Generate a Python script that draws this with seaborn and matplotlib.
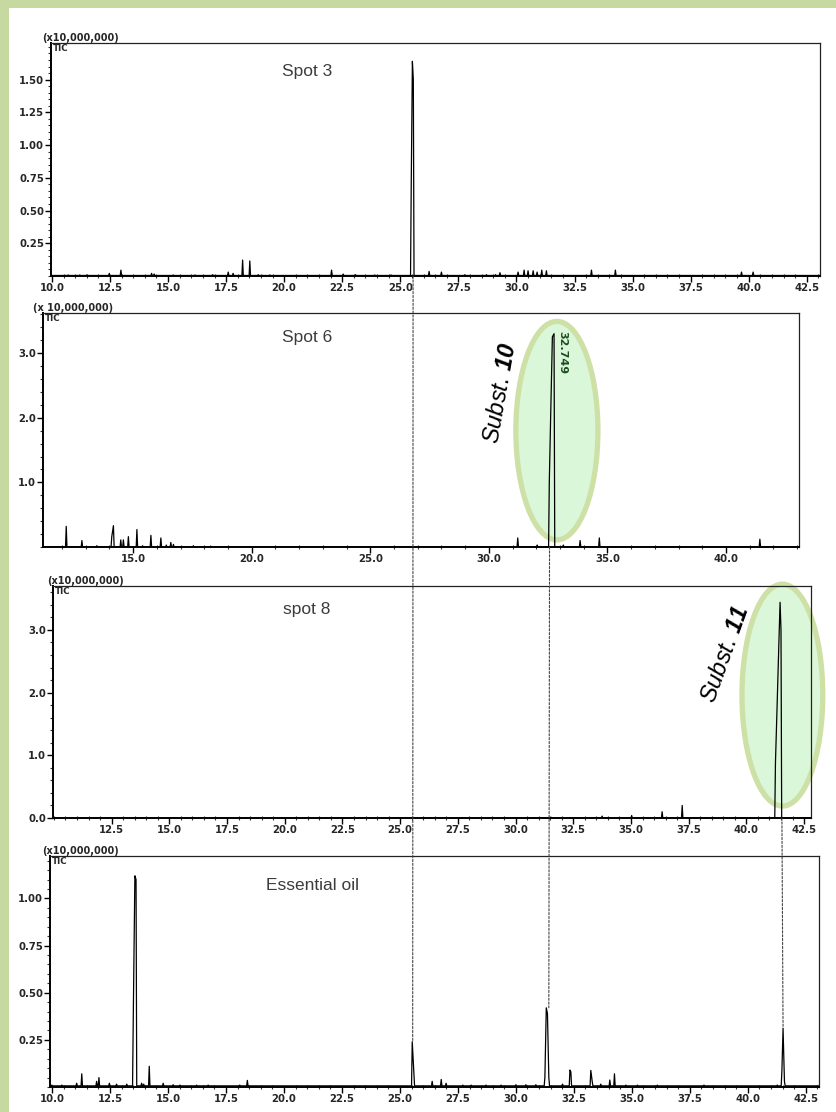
import numpy as np
import pandas as pd
import matplotlib
matplotlib.use("Agg")
import matplotlib.pyplot as plt
from matplotlib.patches import Ellipse, Rectangle, ConnectionPatch
from matplotlib.ticker import MultipleLocator
import seaborn as sns

# ---------------- data (retention time [min], TIC [x10,000,000]) ----------------
spot3_rt = [10.7, 11.2, 11.5, 12.47, 12.97, 14.29, 14.4, 15.22, 16.16, 16.92, 17.59, 17.8,
            18.21, 18.52, 18.88, 19.38, 22.04, 22.54, 23.07, 23.9, 24.6,
            25.47, 25.52, 25.56, 26.24, 26.77, 27.78, 28.71, 29.1, 29.29, 30.07, 30.33,
            30.5, 30.72, 30.89, 31.09, 31.29, 33.23, 34.26, 39.69, 40.19]
spot3_h = [0.008, 0.008, 0.008, 0.02, 0.045, 0.02, 0.015, 0.008, 0.008, 0.01, 0.03, 0.02,
           0.122, 0.115, 0.01, 0.008, 0.045, 0.015, 0.01, 0.008, 0.008,
           0.69, 1.64, 1.50, 0.035, 0.03, 0.01, 0.01, 0.01, 0.025, 0.03, 0.045,
           0.04, 0.04, 0.03, 0.045, 0.04, 0.045, 0.045, 0.03, 0.03]

spot6_rt = [12.18, 12.84, 13.47, 14.1, 14.17, 14.48, 14.59, 14.8, 15.16, 15.4, 15.75, 16.17,
            16.4, 16.59, 16.7, 17.54, 18.27, 31.22, 32.04, 32.55, 32.61, 32.68, 32.75, 33.14,
            33.85, 34.66, 41.43]
spot6_h = [0.32, 0.10, 0.02, 0.16, 0.33, 0.11, 0.11, 0.16, 0.27, 0.02, 0.18, 0.14,
           0.03, 0.07, 0.04, 0.02, 0.015, 0.14, 0.03, 1.00, 2.06, 3.25, 3.30, 0.03,
           0.10, 0.14, 0.12]

spot8_rt = [31.55, 33.75, 35.03, 36.35, 37.22, 41.26, 41.33, 41.40, 41.46, 41.50]
spot8_h = [0.01, 0.03, 0.04, 0.10, 0.20, 0.88, 1.77, 2.68, 3.44, 3.00]

oil_rt = [9.99, 10.42, 11.06, 11.28, 11.92, 12.02, 12.47, 12.78, 13.22, 13.50, 13.57, 13.62,
          13.86, 13.95, 14.19, 14.79, 15.22, 15.51, 16.23, 16.73, 18.09, 18.42, 25.53, 25.6,
          26.39, 26.78, 26.99, 27.71, 28.07, 28.71, 29.36, 30.0, 30.43, 30.86, 31.25, 31.31,
          31.36, 31.42, 32.01, 32.33, 32.37, 33.23, 33.29, 33.66, 34.05, 34.25, 34.74, 35.24,
          36.1, 38.11, 41.27, 41.47, 41.52, 41.58]
oil_h = [0.01, 0.01, 0.02, 0.07, 0.03, 0.05, 0.02, 0.015, 0.015, 0.36, 1.12, 1.10,
         0.02, 0.015, 0.11, 0.02, 0.012, 0.01, 0.01, 0.01, 0.01, 0.035, 0.24, 0.07,
         0.03, 0.04, 0.02, 0.01, 0.01, 0.01, 0.01, 0.012, 0.012, 0.012, 0.05, 0.42,
         0.39, 0.05, 0.015, 0.09, 0.08, 0.088, 0.03, 0.015, 0.037, 0.07, 0.01, 0.01,
         0.01, 0.01, 0.01, 0.085, 0.31, 0.03]

panel_names = ["Spot 3", "Spot 6", "spot 8", "Essential oil"]
scale_labels = ["(x10,000,000)", "(x 10,000,000)", "(x10,000,000)", "(x10,000,000)"]

x_ticks_a = [10.0, 12.5, 15.0, 17.5, 20.0, 22.5, 25.0, 27.5, 30.0, 32.5, 35.0, 37.5, 40.0, 42.5]
x_labels_a = ["10.0", "12.5", "15.0", "17.5", "20.0", "22.5", "25.0", "27.5", "30.0",
              "32.5", "35.0", "37.5", "40.0", "42.5"]
x_ticks_b = [15.0, 20.0, 25.0, 30.0, 35.0, 40.0]
x_labels_b = ["15.0", "20.0", "25.0", "30.0", "35.0", "40.0"]
x_ticks_c = x_ticks_a[1:]
x_labels_c = x_labels_a[1:]

y_ticks_1 = [0.25, 0.50, 0.75, 1.00, 1.25, 1.50]
y_labels_1 = ["0.25", "0.50", "0.75", "1.00", "1.25", "1.50"]
y_ticks_2 = [1.0, 2.0, 3.0]
y_labels_2 = ["1.0", "2.0", "3.0"]
y_ticks_3 = [0.0, 1.0, 2.0, 3.0]
y_labels_3 = ["0.0", "1.0", "2.0", "3.0"]
y_ticks_4 = [0.25, 0.50, 0.75, 1.00]
y_labels_4 = ["0.25", "0.50", "0.75", "1.00"]

peak10_label = "32.749"
# retention times linked by dotted lines between panels
link_spot3_rt, link_oil_rt_a, link_oil_h_a = 25.55, 25.55, 0.24
link_spot6_rt, link_oil_rt_b, link_oil_h_b = 32.56, 31.42, 0.42
link_spot8_rt, link_oil_rt_c, link_oil_h_c = 41.54, 41.52, 0.31

# ---------------- style ----------------
sns.set_theme(style="white")
plt.rcParams["font.family"] = ["DejaVu Sans"]
plt.rcParams["mathtext.fontset"] = "custom"
plt.rcParams["mathtext.rm"] = "Liberation Sans"
plt.rcParams["mathtext.it"] = "Liberation Sans:italic"
plt.rcParams["mathtext.bf"] = "Liberation Sans:bold:italic"

GREEN_BG = "#c5d9a0"
ELL_FILL = "#dbf7d9"
ELL_EDGE = "#cde0a6"


def build_trace(rts, hs, lo, hi, base, w=0.03, merge=0.08):
    order = np.argsort(rts)
    r = np.asarray(rts, float)[order]
    h = np.asarray(hs, float)[order]
    xs, ys = [lo], [base]
    for i in range(len(r)):
        if i == 0 or r[i] - r[i - 1] > merge:
            xs.append(r[i] - w); ys.append(base)
        xs.append(r[i]); ys.append(h[i])
        if i == len(r) - 1 or r[i + 1] - r[i] > merge:
            xs.append(r[i] + w); ys.append(base)
    xs.append(hi); ys.append(base)
    return pd.DataFrame({"rt": xs, "tic": ys})


fig = plt.figure(figsize=(8.36, 11.12), dpi=100)
fig.patch.set_facecolor("white")
W, H = 836.0, 1112.0
fig.add_artist(Rectangle((0, 0), 9 / W, 1, transform=fig.transFigure,
                         facecolor=GREEN_BG, edgecolor="none", zorder=0))
fig.add_artist(Rectangle((0, 1 - 8 / H), 1, 8 / H, transform=fig.transFigure,
                         facecolor=GREEN_BG, edgecolor="none", zorder=0))

# axes boxes in pixels: left, top, right, bottom
boxes = [(51, 43, 820, 276), (43, 313, 799, 547), (53, 586, 811, 818), (50, 856, 819, 1087)]
xlims = [(9.96, 43.07), (11.2, 43.08), (9.96, 42.8), (9.91, 43.07)]
ylims = [(0, 1.78), (0, 3.62), (0, 3.70), (0, 1.225)]
series = [(spot3_rt, spot3_h, 0.004), (spot6_rt, spot6_h, 0.0),
          (spot8_rt, spot8_h, 0.0), (oil_rt, oil_h, 0.006)]
xt = [(x_ticks_a, x_labels_a), (x_ticks_b, x_labels_b), (x_ticks_c, x_labels_c), (x_ticks_a, x_labels_a)]
yt = [(y_ticks_1, y_labels_1), (y_ticks_2, y_labels_2), (y_ticks_3, y_labels_3), (y_ticks_4, y_labels_4)]
xminor = [0.5, 1.0, 0.5, 0.5]
yminor = [0.05, 0.2, 0.2, 0.05]
name_pos = [(0.333, 0.876), (0.349, 0.897), (0.335, 0.897), (0.342, 0.874)]
scale_dx = [-9, -10, -6, -8]

axes = []
for i in range(4):
    l, t, r, b = boxes[i]
    ax = fig.add_axes([l / W, 1 - b / H, (r - l) / W, (b - t) / H])
    ax.set_facecolor("white")
    rts, hs, base = series[i]
    df = build_trace(rts, hs, xlims[i][0], xlims[i][1], base)
    sns.lineplot(data=df, x="rt", y="tic", sort=False, estimator=None, ax=ax,
                 color="black", linewidth=0.9, zorder=5)
    ax.set_xlim(*xlims[i])
    ax.set_ylim(*ylims[i])
    ax.set_xlabel("")
    ax.set_ylabel("")
    ax.set_xticks(xt[i][0])
    ax.set_xticklabels(xt[i][1])
    ax.set_yticks(yt[i][0])
    ax.set_yticklabels(yt[i][1])
    ax.xaxis.set_minor_locator(MultipleLocator(xminor[i]))
    ax.yaxis.set_minor_locator(MultipleLocator(yminor[i]))
    ax.tick_params(axis="both", which="both", bottom=True, left=True, top=False, right=False)
    ax.tick_params(axis="both", which="major", direction="out", length=4, width=1,
                   color="black", labelsize=7.3, pad=1)
    ax.tick_params(axis="both", which="minor", direction="out", length=2.2, width=0.8,
                   color="#333333")
    ax.tick_params(axis="x", which="minor", direction="inout", length=3)
    for lab in ax.get_xticklabels() + ax.get_yticklabels():
        lab.set_fontweight("bold")
    for side in ["left", "bottom"]:
        ax.spines[side].set_linewidth(1.4)
        ax.spines[side].set_color("black")
    for side in ["top", "right"]:
        ax.spines[side].set_linewidth(0.9)
        ax.spines[side].set_color("#222222")
    ax.text(0.003, 0.995, "TIC", transform=ax.transAxes, ha="left", va="top",
            fontsize=6.3, fontweight="bold")
    ax.text(scale_dx[i] / (r - l), 1.0, scale_labels[i], transform=ax.transAxes,
            ha="left", va="bottom", fontsize=7, fontweight="bold")
    ax.text(name_pos[i][0], name_pos[i][1], panel_names[i], transform=ax.transAxes,
            ha="center", va="center", fontsize=12.5, color="#3c3c3c",
            family="Liberation Sans")
    axes.append(ax)

ax1, ax2, ax3, ax4 = axes

# highlighted peaks
ax2.add_patch(Ellipse((32.87, 1.80), 3.46, 3.38, facecolor=ELL_FILL, edgecolor=ELL_EDGE,
                      linewidth=3.8, zorder=2, clip_on=False))
ax3.add_patch(Ellipse((41.56, 1.96), 3.5, 3.54, facecolor=ELL_FILL, edgecolor=ELL_EDGE,
                      linewidth=3.8, zorder=2, clip_on=False))

ax2.text(0.6045, 0.658, r"$\mathit{Subst.}\,\mathbf{10}$", transform=ax2.transAxes,
         rotation=80, ha="center", va="center", fontsize=17, color="black")
ax3.text(0.8865, 0.707, r"$\mathit{Subst.}\,\mathbf{11}$", transform=ax3.transAxes,
         rotation=70, ha="center", va="center", fontsize=17, color="black")
ax2.text(0.6865, 0.833, peak10_label, transform=ax2.transAxes, rotation=-90,
         ha="center", va="center", fontsize=8, fontweight="bold", color="#1f4d22", zorder=6)

# dotted links between panels
for axA, xa, xb, yb in [(ax1, link_spot3_rt, link_oil_rt_a, link_oil_h_a),
                        (ax2, link_spot6_rt, link_oil_rt_b, link_oil_h_b),
                        (ax3, link_spot8_rt, link_oil_rt_c, link_oil_h_c)]:
    con = ConnectionPatch(xyA=(xa, 0), coordsA=axA.transData,
                          xyB=(xb, yb), coordsB=ax4.transData,
                          linestyle=(0, (2, 1.5)), color="#444444", linewidth=0.8, zorder=3)
    fig.add_artist(con)

fig.savefig("out.png", dpi=100, facecolor=fig.get_facecolor())
